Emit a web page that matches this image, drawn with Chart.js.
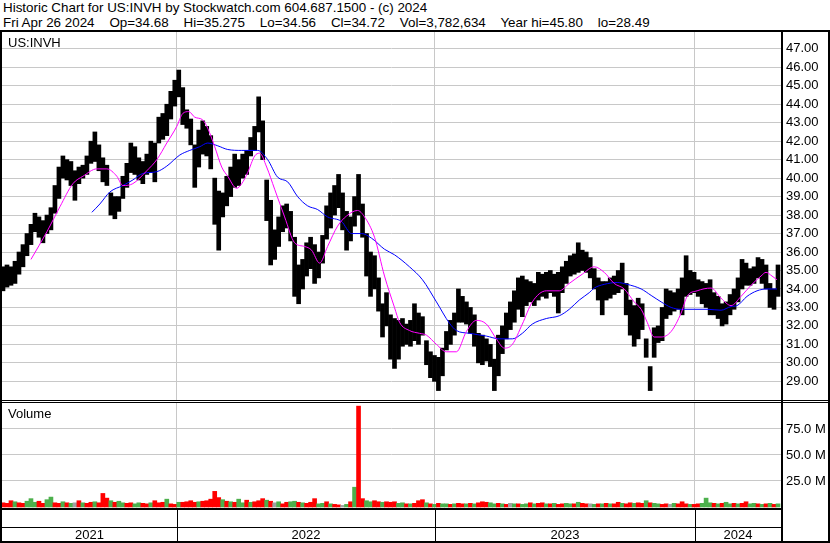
<!DOCTYPE html>
<html>
<head>
<meta charset="utf-8">
<script src="https://cdn.jsdelivr.net/npm/chart.js@4.4.1/dist/chart.umd.min.js"></script>
<style>
    body { margin: 0; background: #fff; font-family: "Liberation Sans", Arial, sans-serif; }
    #wrap { position: relative; width: 830px; height: 543px; overflow: hidden; background: #fff; }
    .txt { position: absolute; white-space: pre; font-size: 13px; line-height: 15px; color: #000; }
    .hdr { font-size: 13.4px; }
    .ln { position: absolute; background: #000; }
    canvas { position: absolute; }
</style>
</head>
<body>
<div id="wrap">
    <div class="txt hdr" style="left:3px; top:0px;">Historic Chart for US:INVH by Stockwatch.com 604.687.1500 - (c) 2024</div>
    <div class="txt hdr" style="left:3px; top:15px;">Fri Apr 26 2024    Op=34.68    Hi=35.275    Lo=34.56    Cl=34.72    Vol=3,782,634    Year hi=45.80    lo=28.49</div>

    <canvas id="price-chart" width="826" height="368" style="left:2px; top:32px;"></canvas>
    <canvas id="vol-chart" width="826" height="138" style="left:2px; top:403px;"></canvas>

    <div class="txt" style="left:8px; top:35px;">US:INVH</div>
    <div class="txt" style="left:8px; top:406px;">Volume</div>

    <!-- frame -->
    <div class="ln" style="left:0; top:30px; width:830px; height:2px;"></div>
    <div class="ln" style="left:0; top:30px; width:2px; height:513px;"></div>
    <div class="ln" style="left:781px; top:30px; width:2px; height:513px;"></div>
    <div class="ln" style="left:828px; top:30px; width:2px; height:513px;"></div>
    <div class="ln" style="left:0; top:400px; width:830px; height:1px;"></div>
    <div class="ln" style="left:0; top:402px; width:830px; height:1px;"></div>
    <div class="ln" style="left:0; top:508px; width:783px; height:2px;"></div>
    <div class="ln" style="left:0; top:527px; width:783px; height:1px;"></div>
    <div class="ln" style="left:0; top:541px; width:830px; height:2px;"></div>
</div>

<script>
    // price samples, one every ~4 trading days, Apr 2021 .. Apr 26 2024
    const hi = [
        35.2, 35.3, 35.2, 35.5, 36.0, 36.4, 37.0, 37.5, 38.1, 37.9,
        37.7, 38.0, 38.4, 39.6, 40.6, 41.2, 41.0, 40.9, 40.4, 40.6,
        40.7, 41.2, 42.0, 42.5, 41.8, 41.1, 40.7, 39.2, 39.0, 39.0,
        40.1, 40.8, 41.9, 41.7, 41.1, 40.9, 41.3, 42.0, 41.9, 43.3,
        43.5, 44.0, 44.7, 45.3, 45.85, 44.9, 43.7, 43.2, 41.8, 42.6,
        43.1, 42.8, 42.3, 40.0, 39.3, 39.2, 40.1, 40.6, 41.3, 41.0,
        41.3, 41.5, 42.2, 42.8, 44.4, 43.1, 39.9, 38.8, 37.2, 37.9,
        38.5, 38.6, 38.2, 36.8, 35.3, 35.6, 36.5, 36.8, 36.4, 36.0,
        36.9, 38.5, 39.2, 39.6, 40.2, 39.2, 38.2, 37.9, 39.0, 40.2,
        38.6, 37.0, 36.0, 35.8, 34.6, 33.2, 33.8, 32.6, 32.4, 32.3,
        32.4, 32.1, 32.3, 33.2, 32.7, 32.5, 31.2, 30.6, 30.4, 30.3,
        30.8, 31.7, 32.3, 32.7, 34.0, 33.6, 33.3, 33.0, 32.6, 31.6,
        31.5, 31.3, 31.0, 30.2, 31.5, 32.0, 32.7, 33.3, 33.9, 34.6,
        34.7, 34.5, 34.4, 34.3, 34.9, 34.8, 34.9, 35.0, 34.8, 34.9,
        35.2, 35.5, 35.8, 35.9, 36.5, 36.1, 36.0, 35.7, 35.1, 34.6,
        34.4, 34.4, 34.6, 34.7, 35.0, 35.4, 34.3, 33.4, 33.1, 33.5,
        33.2, 31.3, 29.8, 31.9, 32.0, 33.0, 34.0, 33.9, 33.8, 34.0,
        34.6, 35.8, 35.0, 34.9, 34.5, 34.4, 34.3, 34.5, 33.8, 33.6,
        33.2, 33.3, 33.7, 34.0, 34.6, 35.6, 35.4, 35.1, 35.2, 35.7,
        35.6, 35.3, 34.3, 34.0, 35.3
    ];
    const lo = [
        33.9, 34.1, 34.2, 34.3, 34.8, 35.2, 35.8, 36.4, 37.1, 36.8,
        36.5, 37.0, 37.2, 38.1, 38.9, 40.0, 39.9, 39.6, 38.8, 39.7,
        40.0, 40.2, 40.8, 40.9, 40.4, 39.8, 39.6, 38.0, 37.8, 38.2,
        38.9, 39.5, 40.3, 40.2, 39.9, 39.7, 40.2, 40.3, 39.8, 41.9,
        42.1, 42.3, 43.2, 43.9, 44.4, 42.9, 42.7, 41.8, 39.5, 40.6,
        41.3, 41.2, 40.5, 37.5, 36.1, 37.9, 38.5, 39.0, 39.5, 39.6,
        40.0, 40.2, 41.2, 41.5, 42.5, 41.0, 37.7, 35.3, 35.6, 36.3,
        37.1, 37.3, 36.6, 33.6, 33.2, 34.0, 34.7, 35.1, 34.3, 34.6,
        35.4, 36.7, 37.3, 38.0, 38.4, 37.2, 36.1, 36.6, 37.4, 38.0,
        36.8, 34.7, 33.6, 34.0, 32.8, 31.4, 32.0, 30.2, 29.7, 30.2,
        30.9, 31.0, 30.9, 31.2, 31.0, 31.5, 29.9, 29.2, 29.0, 28.5,
        29.3, 30.7, 31.0, 31.5, 32.2, 32.2, 32.1, 31.6, 30.9, 30.0,
        29.9, 30.1, 29.8, 28.5, 29.3, 30.5, 31.3, 31.8, 32.2, 32.9,
        32.5, 33.1, 33.3, 33.1, 33.4, 33.6, 33.5, 33.8, 33.6, 32.7,
        33.8, 34.3, 34.7, 34.8, 34.9, 35.0, 34.9, 34.6, 34.0, 33.4,
        32.6, 33.4, 33.5, 33.7, 33.8, 34.0, 32.6, 31.5, 30.9, 31.3,
        31.8, 30.3, 28.5, 30.3, 31.1, 31.2, 32.4, 32.6, 32.8, 32.9,
        32.6, 33.6, 33.7, 33.8, 33.6, 33.2, 33.0, 32.6, 32.6, 32.4,
        32.0, 32.1, 32.6, 32.9, 33.3, 34.0, 34.2, 34.2, 34.3, 34.6,
        34.3, 34.0, 33.0, 32.9, 33.6
    ];

    // volume in millions, same samples; u = up day, d = down day, n = unchanged
    const vol = [
        4, 3.5, 6, 5, 4, 3.5, 5.5, 8, 4.5, 5.5,
        3.5, 7, 9.5, 4, 3.5, 5, 4, 3.5, 4, 6,
        4, 3.5, 4.5, 5, 4, 13, 8.5, 6, 4.5, 5.5,
        4, 3.5, 4, 3, 4, 3.5, 3, 4, 6, 4,
        4.5, 7.5, 3, 2.5, 4.5, 4.5, 5, 6, 4.5, 5,
        5.5, 6, 7.5, 15, 9, 7, 5.5, 5, 4.5, 7.5,
        4, 6.5, 4.5, 5, 6, 8, 6.5, 5.5, 4, 5,
        3, 4.5, 5, 5.5, 4.5, 4, 3.5, 4.5, 8, 3,
        3.5, 5, 3, 2.5, 2, 1.5, 2.5, 5, 19, 97,
        8, 6, 5, 6, 5, 4.5, 5, 4.5, 5, 3.5,
        4, 3, 3, 3.5, 6, 7, 4, 3, 2.5, 3.5,
        3, 3, 2.5, 3, 3.5, 3, 3, 3.5, 3, 4,
        5, 4.5, 4, 3, 3.5, 3, 2.5, 3.5, 3, 3,
        2.5, 3, 4, 3, 3.5, 4, 3, 3, 3.5, 2.5,
        3, 3.5, 3, 3, 4.5, 3.5, 3, 3, 2.5, 3,
        3, 3.5, 3, 3, 4.5, 3.5, 3, 4, 3.5, 4,
        3.5, 6, 4, 3.5, 3, 2.5, 3, 2.5, 3.5, 3,
        5, 3, 2.5, 2.5, 3, 3.5, 8.5, 4, 3.5, 3,
        3.5, 4.5, 3, 3.5, 3, 3.5, 5, 3, 3.5, 3,
        2.5, 3, 3.5, 2.5, 3
    ];
    const volDir = (
        'dddudduuud' + 'duuddudund' + 'uddudddudu' + 'udduuddudd' + 'dudduddddu' +
        'dddddududu' + 'ududddudnu' + 'dduududddu' + 'ududdnudud' + 'duuddudddu' +
        'ududddudud' + 'uududdudud' + 'dduududnud' + 'uududdudud' + 'duududdnud' +
        'ududduddud' + 'duduuddnud' + 'ddudduuudu' + 'duududduud' + 'ududu'
    ).split('');

    // moving averages: sample position / price
    const maFastIdx = [7, 11, 14.25, 17.5, 20, 23.5, 26, 28.5, 30, 32.5, 36, 38.5, 41, 43.5, 45, 46.5, 48, 50, 51.25, 53,
        54.75, 56.25, 58.5, 59.75, 61.25, 63, 64.25, 66, 68, 70.5, 73, 75.5, 77.25, 79.25, 81.25, 83.75, 86, 88.75, 90.5, 93,
        95.5, 98, 99.25, 101.75, 104.25, 106, 108.5, 111, 113.5, 116, 118.5, 121, 123.5, 125.5, 127.5, 130, 132.5, 136, 139.25,
        141.75, 145, 148, 150.5, 153, 155.5, 158, 159.75, 161.25, 163, 164.75, 167.25, 169.75, 171.25, 173.75, 177.25, 179.75,
        182.25, 184.75, 187.25, 189.75, 191, 192.5, 193.75];
    const maFastVal = [35.6, 37.1, 38.45, 39.7, 40.1, 40.5, 40.5, 40.1, 39.6, 39.7, 40.4, 41.0, 41.9, 42.8, 43.5, 43.6, 43.3, 43.15, 42.7, 41.7,
        40.6, 40.1, 39.45, 39.7, 40.3, 41.2, 41.35, 40.6, 39.4, 37.9, 36.5, 36.3, 36.1, 35.4, 36.3, 37.4, 37.95, 38.25, 37.9, 36.8,
        34.7, 33.0, 32.2, 31.75, 31.6, 31.5, 31.0, 30.6, 30.6, 31.7, 32.3, 32.1, 31.3, 30.8, 31.0, 32.1, 33.3, 33.9, 33.9,
        34.3, 34.8, 35.2, 34.9, 34.3, 34.0, 33.3, 32.9, 32.2, 31.4, 31.4, 31.7, 32.7, 33.6, 33.9, 34.05, 33.5,
        33.1, 33.6, 34.2, 34.7, 34.9, 34.7, 34.5];

    const maSlowIdx = [22.25, 24.25, 26.75, 30, 32.5, 35, 38.5, 41, 44.25, 46.75, 49.25, 51.25, 53.75, 56.25, 59.75, 63.75, 66.25,
        68.75, 71.25, 73.75, 76.25, 78.75, 81.25, 84.75, 87.25, 89.75, 92.25, 95.5, 98, 101.75, 105, 108.5, 111.75, 113.5, 116.75,
        121, 124.25, 127.5, 130, 132.5, 136, 139.25, 141.75, 144.25, 146.75, 148, 150.5, 153.75, 156.25, 159.75, 162.25, 164.75,
        167.25, 169.75, 173, 176.25, 179.75, 182.25, 183.75, 186.25, 188.75, 191.25, 193.75];
    const maSlowVal = [38.15, 38.6, 39.25, 39.6, 39.9, 40.25, 40.35, 40.65, 41.25, 41.5, 41.7, 41.9, 41.75, 41.55, 41.5, 41.5, 41.0,
        40.05, 39.8, 39.0, 38.5, 38.3, 37.9, 37.65, 37.0, 37.0, 36.75, 36.15, 35.85, 35.2, 34.5, 33.3, 32.15, 31.75, 31.6,
        31.45, 31.3, 31.3, 31.6, 32.1, 32.4, 32.55, 32.9, 33.4, 33.8, 34.05, 34.25, 34.35, 34.25, 34.0, 33.65, 33.3,
        33.0, 32.9, 32.9, 32.9, 32.85, 33.05, 33.1, 33.6, 33.9, 34.0, 34.0];

    // axis labels
    const priceTicks = [29, 30, 31, 32, 33, 34, 35, 36, 37, 38, 39, 40, 41, 42, 43, 44, 45, 46, 47];
    const volTicks = [25, 50, 75];
    const yearLabels = ['2021', '2022', '2023', '2024'];
    const yearBreaks = [43.55, 108.1, 173.2]; // sample position where 2022, 2023, 2024 begin

    Chart.defaults.font.family = '"Liberation Sans", Arial, sans-serif';
    Chart.defaults.font.size = 13;
    Chart.defaults.color = '#000';

    const gridGray = '#c8c8c8';

    const xAxis = () => ({
        type: 'linear',
        offset: false,
        min: -0.25,
        max: 194.75,
        afterBuildTicks: s => { s.ticks = yearBreaks.map(v => ({ value: v })); },
        afterFit: s => { s.height = 0; },
        ticks: { display: false },
        border: { display: false },
        grid: { color: gridGray, drawTicks: false, offset: false }
    });

    const yAxis = (min, max, tickList, fmt) => ({
        position: 'right',
        min: min,
        max: max,
        afterBuildTicks: s => { s.ticks = tickList.map(v => ({ value: v })); },
        afterFit: s => { s.width = 47; s.paddingTop = 0; s.paddingBottom = 0; },
        ticks: { padding: 5, color: '#000', font: { size: 13 }, callback: fmt },
        border: { display: false },
        grid: { color: gridGray, drawTicks: false }
    });

    const baseOptions = {
        responsive: false,
        animation: false,
        events: [],
        plugins: { legend: { display: false }, tooltip: { enabled: false } }
    };

    new Chart(document.getElementById('price-chart').getContext('2d'), {
        type: 'bar',
        data: {
            datasets: [
                {
                    type: 'line', order: 1,
                    data: maFastIdx.map((x, k) => ({ x: x, y: maFastVal[k] })),
                    borderColor: '#ff00ff', borderWidth: 1, pointRadius: 0,
                    cubicInterpolationMode: 'monotone'
                },
                {
                    type: 'line', order: 1,
                    data: maSlowIdx.map((x, k) => ({ x: x, y: maSlowVal[k] })),
                    borderColor: '#0000ff', borderWidth: 1, pointRadius: 0,
                    cubicInterpolationMode: 'monotone'
                },
                {
                    order: 2,
                    data: hi.map((h, i) => ({ x: i, y: [lo[i], h] })),
                    backgroundColor: '#000',
                    borderWidth: 0,
                    barThickness: 4
                }
            ]
        },
        options: Object.assign({}, baseOptions, {
            layout: { padding: 0 },
            scales: {
                x: xAxis(),
                y: yAxis(27.99, 47.91, priceTicks, v => Number(v).toFixed(2))
            }
        })
    });

    // year separators and year names under the volume panel
    const yearBand = {
        id: 'yearBand',
        afterDraw(chart) {
            const { ctx, chartArea: a, scales: { x } } = chart;
            const edges = [a.left].concat(yearBreaks.map(v => Math.round(x.getPixelForValue(v))), [a.right]);
            ctx.save();
            ctx.fillStyle = '#000';
            yearBreaks.forEach(v => {
                const px = Math.round(x.getPixelForValue(v));
                ctx.fillRect(px, a.bottom + 2, 1, chart.height - a.bottom - 2);
            });
            ctx.font = '13px "Liberation Sans", Arial, sans-serif';
            ctx.textAlign = 'center';
            ctx.textBaseline = 'alphabetic';
            yearLabels.forEach((lbl, k) => {
                ctx.fillText(lbl, (edges[k] + edges[k + 1]) / 2, a.bottom + 31);
            });
            ctx.restore();
        }
    };

    const volColors = { u: '#4cb04c', d: '#ff0000', n: '#a0a0a0' };

    new Chart(document.getElementById('vol-chart').getContext('2d'), {
        type: 'bar',
        data: {
            datasets: [{
                data: vol.map((v, i) => ({ x: i, y: v })),
                backgroundColor: volDir.map(d => volColors[d]),
                borderWidth: 0,
                barThickness: 4
            }]
        },
        options: Object.assign({}, baseOptions, {
            layout: { padding: { bottom: 33 } },
            scales: {
                x: xAxis(),
                y: yAxis(-1, 100, volTicks, v => Number(v).toFixed(1) + ' M')
            }
        }),
        plugins: [yearBand]
    });
</script>
</body>
</html>
